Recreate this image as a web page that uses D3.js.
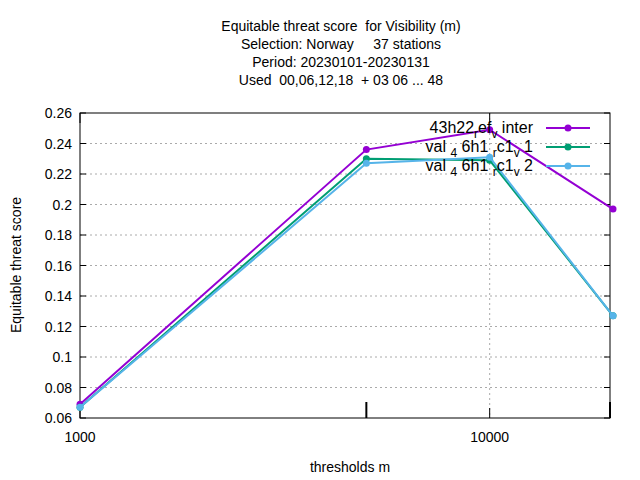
<!DOCTYPE html><html><head><script src="https://cdn.jsdelivr.net/npm/d3@7"></script>
<style>body{margin:0;background:#fff}text{font-family:"Liberation Sans",Arial,sans-serif;font-size:14px;white-space:pre}</style></head><body>
<script>
const thresholds=[1000,5000,10000,20000];
const seriesNames=[["43h22","r","ef","v"," inter"],["val ","4"," 6h1 ","r","c1","v"," 1"],["val ","4"," 6h1 ","r","c1","v"," 2"]];
const seriesVals=[[0.069,0.236,0.249,0.197],[0.067,0.230,0.229,0.127],[0.067,0.227,0.231,0.127]];
const colors=["#9400d3","#009e73","#56b4e9"];
const yTicks=[0.06,0.08,0.1,0.12,0.14,0.16,0.18,0.2,0.22,0.24,0.26];
const titleLines=["Equitable threat score  for Visibility (m)","Selection: Norway     37 stations","Period: 20230101-20230131","Used  00,06,12,18  + 03 06 ... 48"];
const svg=d3.select("body").append("svg").attr("width",640).attr("height",480);
const L=80,R=610,T=113,B=418;
const x=d3.scaleLog().domain([1000,20000]).range([L,613]);
const y=d3.scaleLinear().domain([0.06,0.26]).range([B,T]);
titleLines.forEach((t,i)=>svg.append("text").attr("x",341).attr("y",31+i*18).attr("text-anchor","middle").attr("font-size","15px").text(t));
yTicks.forEach(v=>{
 if(v>0.061&&v<0.259)svg.append("line").attr("x1",L).attr("x2",R).attr("y1",y(v)).attr("y2",y(v)).attr("stroke","#aaa").attr("stroke-dasharray","2,3");
 svg.append("line").attr("x1",L).attr("x2",L+6).attr("y1",y(v)).attr("y2",y(v)).attr("stroke","#000");
 svg.append("line").attr("x1",R).attr("x2",R-6).attr("y1",y(v)).attr("y2",y(v)).attr("stroke","#000");
 svg.append("text").attr("x",L-8).attr("y",y(v)+5).attr("text-anchor","end").attr("font-size","15px").text(d3.format(".2~f")(v));
});
[1000,10000].forEach(v=>{
 if(v>1000)svg.append("line").attr("x1",x(v)).attr("x2",x(v)).attr("y1",T).attr("y2",B).attr("stroke","#aaa").attr("stroke-dasharray","2,3");
 svg.append("line").attr("x1",x(v)).attr("x2",x(v)).attr("y1",B).attr("y2",B-10).attr("stroke","#000");
 svg.append("line").attr("x1",x(v)).attr("x2",x(v)).attr("y1",T).attr("y2",T+10).attr("stroke","#000");
 svg.append("text").attr("x",x(v)).attr("y",B+24).attr("text-anchor","middle").attr("font-size","15px").text(v);
});
[5000,20000].forEach(v=>{
 svg.append("line").attr("x1",Math.min(x(v),R)).attr("x2",Math.min(x(v),R)).attr("y1",B).attr("y2",B-16).attr("stroke","#000").attr("stroke-width",2);
});
svg.append("rect").attr("x",L).attr("y",T).attr("width",R-L).attr("height",B-T).attr("fill","none").attr("stroke","#000");
svg.append("text").attr("x",350).attr("y",472).attr("text-anchor","middle").attr("font-size","15px").text("thresholds m");
svg.append("text").attr("transform","translate(21,265) rotate(-90)").attr("text-anchor","middle").attr("font-size","15px").text("Equitable threat score");
const line=d3.line().x((d,i)=>x(thresholds[i])).y(d=>y(d));
seriesVals.forEach((s,k)=>{
 const g=svg.append("g");
 g.append("path").attr("d",line(s)).attr("fill","none").attr("stroke",colors[k]).attr("stroke-width",2);
 s.forEach((d,i)=>g.append("circle").attr("cx",x(thresholds[i])).attr("cy",y(d)).attr("r",3.5).attr("fill",colors[k]));
 const ly=128+k*19;
 g.append("line").attr("x1",546).attr("x2",590).attr("y1",ly).attr("y2",ly).attr("stroke",colors[k]).attr("stroke-width",2);
 g.append("circle").attr("cx",568).attr("cy",ly).attr("r",3.5).attr("fill",colors[k]);
 const t=svg.append("text").attr("x",533).attr("y",ly+5).attr("text-anchor","end");
 const parts=seriesNames[k];
 parts.forEach((p,j)=>{
  const sub=(k===0)?(j===1||j===3):(j===1||j===3||j===5);
  t.append("tspan").attr("dy",sub?5:(j>0?-5:0)).attr("font-size",sub?"12px":"16px").text(p);
 });
});
</script></body></html>
